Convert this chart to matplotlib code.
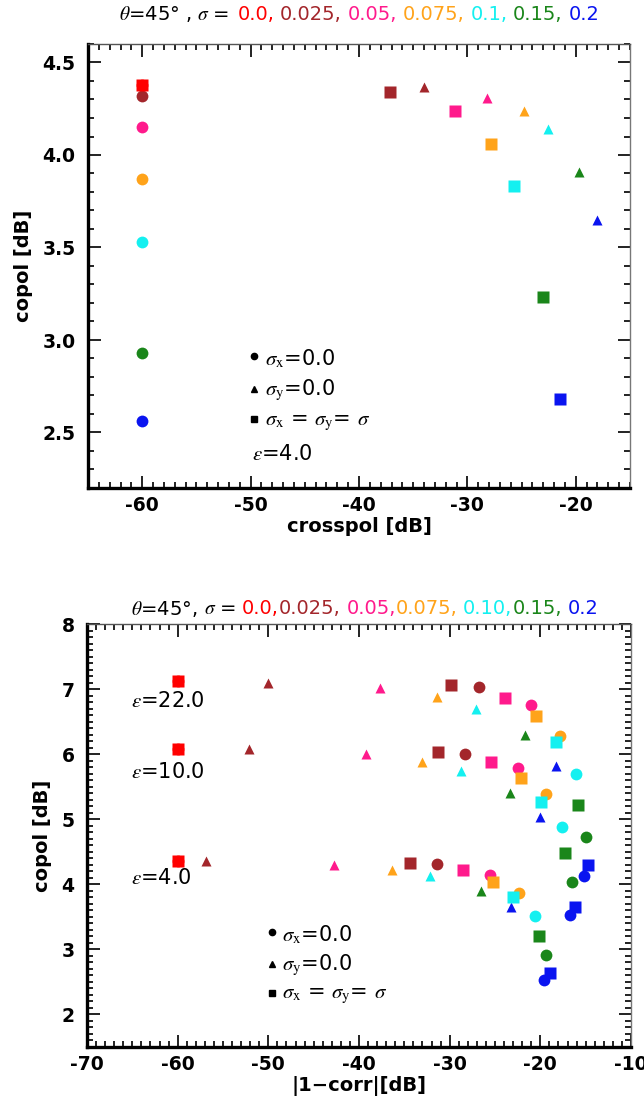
import matplotlib
matplotlib.use('Agg')
import matplotlib.pyplot as plt
from matplotlib.ticker import MultipleLocator, FormatStrFormatter
from matplotlib.transforms import IdentityTransform

plt.rcParams['font.family'] = ['DejaVu Sans']
plt.rcParams['mathtext.fontset'] = 'stix'
plt.rcParams['axes.unicode_minus'] = False

# ---------------- data ----------------
sigma_labels_top = ["0.0,", "0.025,", "0.05,", "0.075,", "0.1,", "0.15,", "0.2"]
sigma_labels_bot = ["0.0,", "0.025,", "0.05,", "0.075,", "0.10,", "0.15,", "0.2"]
colors = ["#ff0000", "#a3262b", "#ff1a8c", "#ffa31a", "#14f0f0", "#1a861a", "#0a14f0"]

# top panel: crosspol [dB] vs copol [dB], eps = 4.0
top_circ_x = [-60, -60, -60, -60, -60, -60, -60]
top_circ_y = [4.38, 4.32, 4.15, 3.87, 3.53, 2.93, 2.56]
top_tri_x = [-60, -34.0, -28.2, -24.8, -22.6, -19.7, -18.0]
top_tri_y = [4.38, 4.365, 4.31, 4.24, 4.14, 3.91, 3.65]
top_sq_x = [-60, -37.1, -31.1, -27.8, -25.7, -23.0, -21.5]
top_sq_y = [4.38, 4.34, 4.24, 4.06, 3.83, 3.23, 2.68]

# bottom panel: |1-corr| [dB] vs copol [dB]
eps_labels = ["22.0", "10.0", "4.0"]
e22_circ_x = [-60, -26.8, -21.0, -17.8, -16.1, -15.0, -15.2]
e22_circ_y = [7.13, 7.03, 6.75, 6.28, 5.70, 4.72, 4.12]
e22_tri_x = [-60, -50.0, -37.7, -31.4, -27.1, -21.7, -18.3]
e22_tri_y = [7.13, 7.10, 7.02, 6.88, 6.70, 6.29, 5.82]
e22_sq_x = [-60, -29.8, -23.9, -20.5, -18.3, -15.8, -14.7]
e22_sq_y = [7.13, 7.07, 6.87, 6.59, 6.18, 5.22, 4.30]

e10_circ_x = [-60, -28.3, -22.5, -19.4, -17.6, -16.5, -16.7]
e10_circ_y = [6.08, 6.00, 5.78, 5.39, 4.88, 4.04, 3.53]
e10_tri_x = [-60, -52.1, -39.2, -33.0, -28.8, -23.3, -20.0]
e10_tri_y = [6.08, 6.08, 6.00, 5.88, 5.74, 5.40, 5.03]
e10_sq_x = [-60, -31.3, -25.4, -22.1, -19.9, -17.3, -16.2]
e10_sq_y = [6.08, 6.03, 5.88, 5.63, 5.27, 4.48, 3.65]

e4_circ_x = [-60, -31.4, -25.6, -22.3, -20.6, -19.4, -19.6]
e4_circ_y = [4.36, 4.31, 4.14, 3.86, 3.51, 2.92, 2.53]
e4_tri_x = [-60, -56.9, -42.8, -36.4, -32.2, -26.5, -23.2]
e4_tri_y = [4.36, 4.36, 4.30, 4.22, 4.12, 3.90, 3.65]
e4_sq_x = [-60, -34.4, -28.5, -25.2, -23.0, -20.2, -18.9]
e4_sq_y = [4.36, 4.32, 4.22, 4.04, 3.80, 3.21, 2.64]

W, H = 644, 1105
fig = plt.figure(figsize=(W / 100, H / 100), dpi=100)

def px_axes(l, t, r, b):
    return fig.add_axes([l / W, 1 - b / H, (r - l) / W, (b - t) / H])

ax1 = px_axes(88, 44, 630, 488)
ax2 = px_axes(87, 624, 631, 1047)

MS_C, MS_T, MS_S = 8.5, 7.0, 8.8

def scatter_group(ax, cx, cy, tx, ty, sx, sy):
    for i in range(len(colors)):
        ax.plot(cx[i], cy[i], 'o', color=colors[i], ms=MS_C, mec='none')
    for i in range(len(colors)):
        ax.plot(tx[i], ty[i], '^', color=colors[i], ms=MS_T, mec='none')
    for i in range(len(colors)):
        ax.plot(sx[i], sy[i], 's', color=colors[i], ms=MS_S, mec='none')

scatter_group(ax1, top_circ_x, top_circ_y, top_tri_x, top_tri_y, top_sq_x, top_sq_y)
scatter_group(ax2, e22_circ_x, e22_circ_y, e22_tri_x, e22_tri_y, e22_sq_x, e22_sq_y)
scatter_group(ax2, e10_circ_x, e10_circ_y, e10_tri_x, e10_tri_y, e10_sq_x, e10_sq_y)
scatter_group(ax2, e4_circ_x, e4_circ_y, e4_tri_x, e4_tri_y, e4_sq_x, e4_sq_y)

def style_axes(ax, xlim, ylim, xmaj, xmin, ymaj, ymin, yfmt):
    ax.set_xlim(*xlim)
    ax.set_ylim(*ylim)
    ax.xaxis.set_major_locator(MultipleLocator(xmaj))
    ax.xaxis.set_minor_locator(MultipleLocator(xmin))
    ax.yaxis.set_major_locator(MultipleLocator(ymaj))
    ax.yaxis.set_minor_locator(MultipleLocator(ymin))
    ax.yaxis.set_major_formatter(FormatStrFormatter(yfmt))
    ax.xaxis.set_major_formatter(FormatStrFormatter('%d'))
    ax.tick_params(which='both', direction='in', top=True, right=True, width=1.4,
                   labelsize=13.5, color='#222222')
    ax.tick_params(which='major', length=9)
    ax.tick_params(which='minor', length=4.5)
    ax.tick_params(axis='x', which='major', pad=6)
    ax.tick_params(axis='y', which='major', pad=9)
    for lab in ax.get_xticklabels() + ax.get_yticklabels():
        lab.set_fontweight('bold')
    ax.spines['left'].set_linewidth(2.4)
    ax.spines['bottom'].set_linewidth(2.4)
    ax.spines['top'].set_linewidth(1.0)
    ax.spines['right'].set_linewidth(1.0)
    ax.spines['top'].set_color('#555555')
    ax.spines['right'].set_color('#777777')

style_axes(ax1, (-65, -15), (2.2, 4.6), 10, 1, 0.5, 0.1, '%.1f')
style_axes(ax2, (-70, -10), (1.5, 8), 10, 1, 1, 0.1, '%d')

ax1.set_xlabel('crosspol [dB]', fontsize=14, fontweight='bold', labelpad=1)
ax1.set_ylabel('copol [dB]', fontsize=14, fontweight='bold', labelpad=7)
ax2.set_xlabel('|1\u2212corr|[dB]', fontsize=14, fontweight='bold', labelpad=1)
ax2.set_ylabel('copol [dB]', fontsize=14, fontweight='bold', labelpad=7)

LEG = 15
# legend top
ax1.plot(-49.73, 2.915, 'o', color='k', ms=4.5)
ax1.plot(-49.73, 2.735, '^', color='k', ms=4)
ax1.plot(-49.73, 2.572, 's', color='k', ms=5)
ax1.text(-48.65, 2.897, r'$\sigma_{\rm x}$=0.0', fontsize=LEG, va='center', ha='left')
ax1.text(-48.65, 2.726, r'$\sigma_{\rm y}$=0.0', fontsize=LEG, va='center', ha='left')
ax1.text(-48.65, 2.554, r'$\sigma_{\rm x}$ = $\sigma_{\rm y}$= $\sigma$', fontsize=LEG, va='center', ha='left')
ax1.text(-49.9, 2.383, r'$\varepsilon$=4.0', fontsize=LEG, va='center', ha='left')

# legend bottom
ax2.plot(-49.65, 3.26, 'o', color='k', ms=4.5)
ax2.plot(-49.65, 2.78, '^', color='k', ms=4)
ax2.plot(-49.65, 2.33, 's', color='k', ms=5)
ax2.text(-48.5, 3.22, r'$\sigma_{\rm x}$=0.0', fontsize=LEG, va='center', ha='left')
ax2.text(-48.5, 2.75, r'$\sigma_{\rm y}$=0.0', fontsize=LEG, va='center', ha='left')
ax2.text(-48.5, 2.29, r'$\sigma_{\rm x}$ = $\sigma_{\rm y}$= $\sigma$', fontsize=LEG, va='center', ha='left')

eps_y = [6.81, 5.73, 4.10]
for lab, yy in zip(eps_labels, eps_y):
    ax2.text(-65.1, yy, r'$\varepsilon$=' + lab, fontsize=LEG, va='center', ha='left')

# colored titles
def colored_title(y_px, center_px, head, labels, gaps, size=14):
    r = fig.canvas.get_renderer()
    space = 0.30 * size * 100 / 72
    pieces = [(h, 'k', 1) for h in head] + [(l, c, g) for l, c, g in zip(labels, colors, gaps)]
    objs = []
    total = 0
    for s, c, g in pieces:
        t = fig.text(0, H - y_px, s, color=c, fontsize=size, va='center', ha='left',
                     transform=IdentityTransform())
        w = t.get_window_extent(r).width
        objs.append((t, w, g))
        total += w + g * space
    x = center_px - total / 2
    for t, w, g in objs:
        t.set_x(x)
        x += w + g * space

colored_title(14, 359, [r'$\theta$=45° ,', r'$\sigma$ = '], sigma_labels_top,
              [1, 1, 1, 1, 1, 1, 0])
colored_title(609, 365, [r'$\theta$=45°,', r'$\sigma$ ='], sigma_labels_bot,
              [0, 1, 0, 1, 0, 1, 0])

fig.savefig('out.png', dpi=100)
